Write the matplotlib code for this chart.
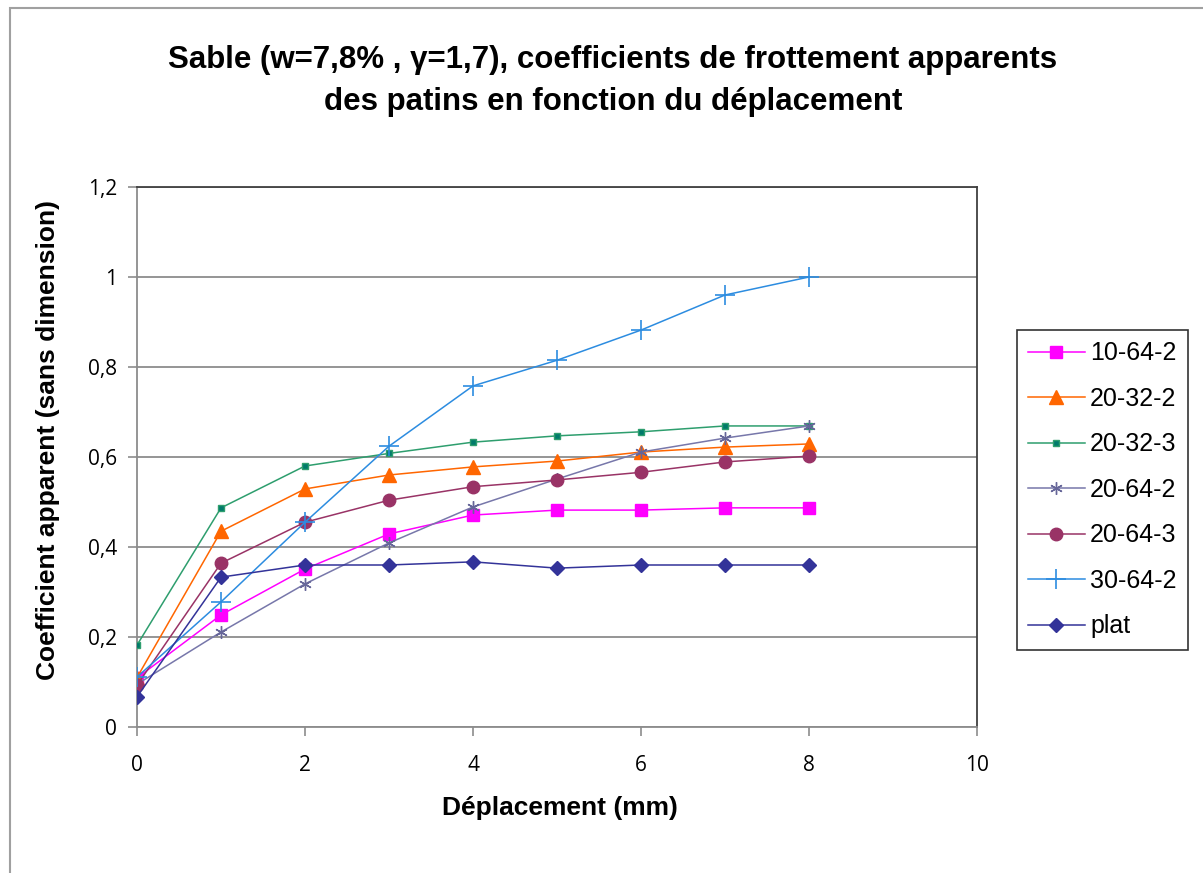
import matplotlib
matplotlib.use("Agg")
import matplotlib.pyplot as plt
from matplotlib.patches import Rectangle
from matplotlib.ticker import FuncFormatter

x = [0, 1, 2, 3, 4, 5, 6, 7, 8]
names = ["10-64-2", "20-32-2", "20-32-3", "20-64-2", "20-64-3", "30-64-2", "plat"]
s_10_64_2 = [0.109, 0.249, 0.351, 0.429, 0.471, 0.482, 0.482, 0.487, 0.487]
s_20_32_2 = [0.110, 0.435, 0.529, 0.560, 0.578, 0.591, 0.611, 0.622, 0.629]
s_20_32_3 = [0.182, 0.487, 0.580, 0.608, 0.633, 0.647, 0.656, 0.669, 0.669]
s_20_64_2 = [0.095, 0.211, 0.318, 0.409, 0.489, 0.551, 0.611, 0.642, 0.669]
s_20_64_3 = [0.093, 0.364, 0.455, 0.504, 0.534, 0.549, 0.566, 0.589, 0.602]
s_30_64_2 = [0.111, 0.278, 0.455, 0.624, 0.758, 0.815, 0.882, 0.960, 1.000]
s_plat = [0.067, 0.333, 0.360, 0.360, 0.367, 0.353, 0.360, 0.360, 0.360]
series = [s_10_64_2, s_20_32_2, s_20_32_3, s_20_64_2, s_20_64_3, s_30_64_2, s_plat]

styles = [
    dict(color="#FF00FF", marker="s", ms=9, mfc="#FF00FF", mec="#FF00FF"),
    dict(color="#FF6600", marker="^", ms=10, mfc="#FF6600", mec="#FF6600"),
    dict(color="#2E9E6E", marker="s", ms=5, mfc="#007A6A", mec="#2E9E6E"),
    dict(color="#7777AA", marker=(6, 2, 0), ms=9, mfc="#7777AA", mec="#666699", mew=1),
    dict(color="#993366", marker="o", ms=9, mfc="#993366", mec="#993366"),
    dict(color="#2C8CE0", marker="+", ms=14, mfc="#2C8CE0", mec="#2C8CE0", mew=1.2),
    dict(color="#333399", marker="D", ms=7, mfc="#333399", mec="#333399"),
]

W, H = 1203, 873
fig = plt.figure(figsize=(W / 100, H / 100), dpi=100)
fig.patch.set_facecolor("white")

# outer chart border
fig.add_artist(Rectangle((10 / W, -0.1), 1.2, (1 - 8 / H) + 0.1, transform=fig.transFigure,
                         fill=False, edgecolor="#A0A0A0", linewidth=1.5))

ax = fig.add_axes([137 / W, 1 - 727 / H, (977 - 137) / W, (727 - 187) / H])
for s, n, st in zip(series, names, styles):
    ax.plot(x, s, label=n, linewidth=1.1, **st, zorder=3)

ax.set_xlim(0, 10)
ax.set_ylim(0, 1.2)
ax.set_xticks([0, 2, 4, 6, 8, 10])
ax.set_yticks([0, 0.2, 0.4, 0.6, 0.8, 1.0, 1.2])
fmt = FuncFormatter(lambda v, p: ("%g" % round(v, 2)).replace(".", ","))
ax.yaxis.set_major_formatter(fmt)
ax.xaxis.set_major_formatter(fmt)
ax.grid(axis="y", color="#8C8C8C", linewidth=1.3)
ax.set_axisbelow(True)
for side in ["left", "bottom"]:
    ax.spines[side].set_color("#8C8C8C")
    ax.spines[side].set_linewidth(1.3)
for side in ["top", "right"]:
    ax.spines[side].set_color("#404040")
    ax.spines[side].set_linewidth(1.3)
ax.tick_params(axis="both", direction="out", length=6.5, color="#8C8C8C", width=1.2,
               labelsize=15)
ax.tick_params(axis="y", pad=8)
ax.tick_params(axis="x", pad=14)
for lab in ax.get_xticklabels() + ax.get_yticklabels():
    lab.set_fontfamily("Open Sans")

fig.text(560 / W, 1 - 808 / H, "Déplacement (mm)", ha="center", va="center",
         fontsize=19, fontweight="bold", family="Liberation Sans")
fig.text(48 / W, 1 - 440 / H, "Coefficient apparent (sans dimension)", ha="center", va="center",
         rotation=90, fontsize=19, fontweight="bold", family="Liberation Sans")

fig.text(613 / W, 1 - 60 / H,
         "Sable (w=7,8% , γ=1,7), coefficients de frottement apparents",
         ha="center", va="center", fontsize=22.5, fontweight="bold", family="Liberation Sans")
fig.text(613 / W, 1 - 102 / H, "des patins en fonction du déplacement",
         ha="center", va="center", fontsize=22.5, fontweight="bold", family="Liberation Sans")

leg = fig.legend(loc="upper left", bbox_to_anchor=(1017 / W, 1 - 330 / H),
                 frameon=True, fancybox=False, edgecolor="black", borderpad=0.45,
                 labelspacing=0.86, handlelength=2.25, handletextpad=0.22,
                 borderaxespad=0, prop={"family": "Liberation Sans", "size": 18})
leg.get_frame().set_linewidth(1.2)

fig.savefig("out.png", dpi=100)
